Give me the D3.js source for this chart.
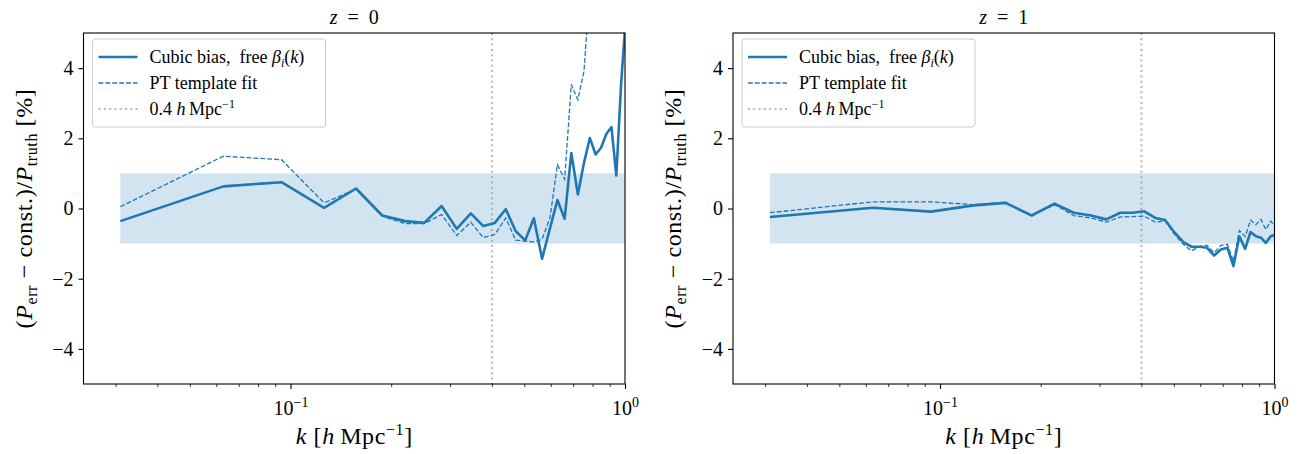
<!DOCTYPE html>
<html lang="en">
<head>
  <meta charset="UTF-8">
  <title>P_err residuals</title>
  <script src="https://d3js.org/d3.v7.min.js"></script>
  <style>
    body { margin: 0; background: #fff; }
    text { font-family: "Liberation Serif", "DejaVu Serif", serif; fill: #000; }
  </style>
</head>
<body>
  <svg id="chart" width="1307" height="454"></svg>
  <script>
    // k bins [h/Mpc]
    const kVals = [0.031, 0.063, 0.094, 0.126, 0.157, 0.188, 0.220, 0.251, 0.283, 0.314,
                   0.346, 0.377, 0.408, 0.440, 0.471, 0.503, 0.534, 0.565, 0.597, 0.628,
                   0.660, 0.691, 0.723, 0.754, 0.785, 0.817, 0.848, 0.880, 0.911, 0.942,
                   0.974, 1.005];

    // z = 0
    const z0Cubic = [-0.36, 0.63, 0.75, 0.02, 0.57, -0.20, -0.36, -0.41, 0.07, -0.58,
                     -0.14, -0.50, -0.41, -0.02, -0.64, -0.91, -0.28, -1.43, -0.55, 0.24,
                     -0.29, 1.58, 0.40, 1.30, 2.01, 1.54, 1.73, 2.13, 2.32, 0.94,
                     3.58, 5.40];
    const z0PT = [0.05, 1.49, 1.39, 0.16, 0.55, -0.22, -0.43, -0.43, -0.17, -0.77,
                  -0.39, -0.83, -0.74, -0.27, -0.90, -0.93, -0.95, -0.88, -0.25, 1.25,
                  0.83, 3.53, 3.10, 3.91, 6.30];

    // z = 1
    const z1Cubic = [-0.24, 0.02, -0.09, 0.09, 0.16, -0.20, 0.14, -0.12, -0.20, -0.31,
                     -0.12, -0.12, -0.08, -0.27, -0.33, -0.69, -0.96, -1.09, -1.09, -1.12,
                     -1.34, -1.17, -1.12, -1.64, -0.79, -1.15, -0.67, -0.79, -0.83, -0.98,
                     -0.79, -0.75];
    const z1PT = [-0.12, 0.19, 0.19, 0.11, 0.18, -0.20, 0.11, -0.20, -0.27, -0.39,
                  -0.24, -0.23, -0.22, -0.39, -0.36, -0.74, -1.02, -1.21, -1.07, -1.05,
                  -1.26, -1.05, -1.02, -1.50, -0.63, -0.80, -0.33, -0.46, -0.31, -0.60,
                  -0.36, -0.50];

    const yTicks = [-4, -2, 0, 2, 4];
    const xMajor = [0.1, 1];
    const xMinor = [0.03, 0.04, 0.05, 0.06, 0.07, 0.08, 0.09, 0.2, 0.3, 0.4, 0.5, 0.6, 0.7, 0.8, 0.9];
    const kCut = 0.4;
    const band = [-1, 1];

    const blue = "#1f77b4";
    const svg = d3.select("#chart");

    const plotTop = 33, plotBottom = 384, pw = 541.5;
    const panels = [
      { left: 83.5, z: "0", cubic: z0Cubic, pt: z0PT, id: "c0" },
      { left: 733, z: "1", cubic: z1Cubic, pt: z1PT, id: "c1" }
    ];

    function drawPanel(p) {
      const x = d3.scaleLog().domain([0.02405, 1]).range([p.left, p.left + pw]);
      const y = d3.scaleLinear().domain([-5, 5]).range([plotBottom, plotTop]);
      const g = svg.append("g");

      g.append("clipPath").attr("id", p.id)
        .append("rect").attr("x", p.left).attr("y", plotTop).attr("width", pw).attr("height", plotBottom - plotTop);
      const plot = g.append("g").attr("clip-path", `url(#${p.id})`);

      // +-1% band
      plot.append("rect")
        .attr("x", x(kVals[0])).attr("width", x(kVals[kVals.length - 1]) - x(kVals[0]))
        .attr("y", y(band[1])).attr("height", y(band[0]) - y(band[1]))
        .attr("fill", blue).attr("fill-opacity", 0.2);

      // k = 0.4 line
      plot.append("line")
        .attr("x1", x(kCut)).attr("x2", x(kCut)).attr("y1", plotTop).attr("y2", plotBottom)
        .attr("stroke", "#999").attr("stroke-opacity", 0.7).attr("stroke-width", 2)
        .attr("stroke-dasharray", "2,3.3");

      const line = d3.line().x((d, i) => x(kVals[i])).y(d => y(d));

      plot.append("path").datum(p.pt).attr("d", line)
        .attr("fill", "none").attr("stroke", blue).attr("stroke-width", 1.3)
        .attr("stroke-dasharray", "4.8,2.1");
      plot.append("path").datum(p.cubic).attr("d", line)
        .attr("fill", "none").attr("stroke", blue).attr("stroke-width", 2.6)
        .attr("stroke-linejoin", "round");

      // axes
      const xa = g.append("g").attr("transform", `translate(0,${plotBottom})`)
        .call(d3.axisBottom(x).tickValues(xMajor).tickSize(5).tickSizeOuter(0).tickFormat(""));
      xa.select(".domain").remove();
      xa.selectAll(".tick line").attr("stroke-width", 1.1);
      xa.selectAll(".tick").append("text")
        .attr("y", 31).attr("text-anchor", "middle").style("font-size", "20px")
        .each(function(d) {
          const t = d3.select(this);
          t.append("tspan").text("10");
          t.append("tspan").attr("dy", -8).style("font-size", "14px").text(d === 1 ? "0" : "\u22121");
        });
      const xm = g.append("g").attr("transform", `translate(0,${plotBottom})`)
        .call(d3.axisBottom(x).tickValues(xMinor).tickSize(3).tickFormat(""));
      xm.select(".domain").remove();
      xm.selectAll(".tick line").attr("stroke-width", 0.8);

      const ya = g.append("g").attr("transform", `translate(${p.left},0)`)
        .call(d3.axisLeft(y).tickValues(yTicks).tickSize(5).tickPadding(5));
      ya.select(".domain").remove();
      ya.selectAll(".tick line").attr("stroke-width", 1.1);
      ya.selectAll(".tick text").style("font-size", "20px").style("font-family", "Liberation Serif");

      // frame
      g.append("rect").attr("x", p.left).attr("y", plotTop).attr("width", pw).attr("height", plotBottom - plotTop)
        .attr("fill", "none").attr("stroke", "#000").attr("stroke-width", 1.1);

      // title
      const cx = p.left + pw / 2;
      const tt = g.append("text").attr("x", cx).attr("y", 24).attr("text-anchor", "middle").style("font-size", "20px");
      tt.append("tspan").style("font-style", "italic").text("z");
      tt.append("tspan").text("\u2002=\u20020".replace("0", p.z));

      // x label
      const xl = g.append("text").attr("x", cx).attr("y", 444).attr("text-anchor", "middle")
        .style("font-size", "24px").style("letter-spacing", "0.6px");
      xl.append("tspan").style("font-style", "italic").text("k");
      xl.append("tspan").text(" [");
      xl.append("tspan").style("font-style", "italic").text("h");
      xl.append("tspan").text("\u2009Mpc");
      xl.append("tspan").attr("dy", -9).style("font-size", "16px").text("\u22121");
      xl.append("tspan").attr("dy", 9).text("]");

      // y label
      const yl = g.append("text")
        .attr("transform", `translate(${p.left - 52},${(plotTop + plotBottom) / 2}) rotate(-90)`)
        .attr("text-anchor", "middle").style("font-size", "24px").style("letter-spacing", "0.6px");
      yl.append("tspan").text("(");
      yl.append("tspan").style("font-style", "italic").text("P");
      yl.append("tspan").attr("dy", 5).style("font-size", "16px").text("err");
      yl.append("tspan").attr("dy", -5).text(" \u2212 const.)/");
      yl.append("tspan").style("font-style", "italic").text("P");
      yl.append("tspan").attr("dy", 5).style("font-size", "16px").text("truth");
      yl.append("tspan").attr("dy", -5).text(" [%]");

      // legend
      const lg = g.append("g").attr("transform", `translate(${p.left + 9},39)`);
      lg.append("rect").attr("width", 233).attr("height", 88).attr("rx", 3)
        .attr("fill", "#fff").attr("fill-opacity", 0.8).attr("stroke", "#ccc");
      const rows = [
        { y: 18, w: 2.6, dash: null, col: blue, op: 1 },
        { y: 44, w: 1.3, dash: "4.8,2.1", col: blue, op: 1 },
        { y: 70, w: 2, dash: "2,3.3", col: "#999", op: 0.7 }
      ];
      rows.forEach(r => {
        lg.append("line").attr("x1", 6).attr("x2", 45).attr("y1", r.y).attr("y2", r.y)
          .attr("stroke", r.col).attr("stroke-opacity", r.op).attr("stroke-width", r.w)
          .attr("stroke-dasharray", r.dash);
      });
      const fs = "18px";
      const l1 = lg.append("text").attr("x", 57).attr("y", rows[0].y + 6).style("font-size", fs);
      l1.append("tspan").text("Cubic bias,\u2002free ");
      l1.append("tspan").style("font-style", "italic").text("\u03b2");
      l1.append("tspan").attr("dy", 4).style("font-size", "12px").style("font-style", "italic").text("i");
      l1.append("tspan").attr("dy", -4).text("(");
      l1.append("tspan").style("font-style", "italic").text("k");
      l1.append("tspan").text(")");
      lg.append("text").attr("x", 57).attr("y", rows[1].y + 6).style("font-size", fs).text("PT template fit");
      const l3 = lg.append("text").attr("x", 57).attr("y", rows[2].y + 6).style("font-size", fs);
      l3.append("tspan").text("0.4 ");
      l3.append("tspan").style("font-style", "italic").text("h");
      l3.append("tspan").text("\u2009Mpc");
      l3.append("tspan").attr("dy", -7).style("font-size", "12px").text("\u22121");
    }

    panels.forEach(drawPanel);
  </script>
</body>
</html>
